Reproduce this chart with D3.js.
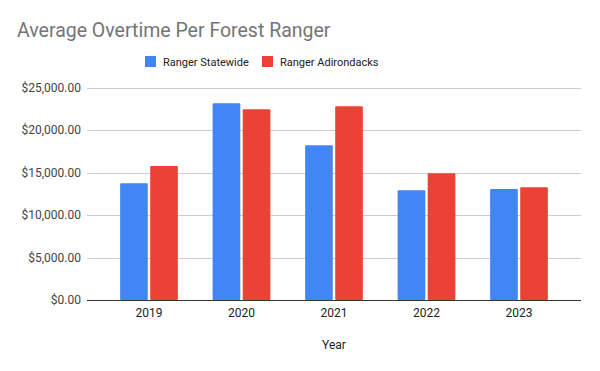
<!DOCTYPE html>
<html>
<head>
<meta charset="utf-8">
<script src="https://cdn.jsdelivr.net/npm/d3@7"></script>
<style>
  body { margin: 0; background: #fff; }
  text { font-family: Roboto, Arial, sans-serif; }
</style>
</head>
<body>
<svg width="600" height="371"></svg>
<script>
const years = ["2019", "2020", "2021", "2022", "2023"];
const seriesNames = ["Ranger Statewide", "Ranger Adirondacks"];
const statewide = [13760, 23200, 18250, 12940, 13100];
const adirondacks = [15800, 22490, 22840, 14950, 13290];
const yTicks = [0, 5000, 10000, 15000, 20000, 25000];
const colors = ["#4285f4", "#ea4335"];

const svg = d3.select('svg');
const width = +svg.attr('width');
const height = +svg.attr('height');

const plot = { left: 87, right: 581, top: 88, bottom: 300 };

const data = years.map((y, i) => ({ year: y, values: [statewide[i], adirondacks[i]] }));

const x0 = d3.scaleBand()
	.domain(years)
	.range([102.75, 565.25])
	.paddingInner(0.376)
	.paddingOuter(0.188);

const x1 = d3.scaleBand()
	.domain(seriesNames)
	.range([0, x0.bandwidth()])
	.paddingInner(0.08);

const yS = d3.scaleLinear()
	.domain([0, 25000])
	.range([plot.bottom, plot.top]);

// title
svg.append('text')
	.attr('x', 17)
	.attr('y', 37)
	.attr('font-size', 19.5)
	.attr('fill', '#757575')
	.text('Average Overtime Per Forest Ranger');

// legend
const legendX = [145, 262];
seriesNames.forEach((name, i) => {
	svg.append('rect')
		.attr('x', legendX[i])
		.attr('y', 56)
		.attr('width', 11)
		.attr('height', 11)
		.attr('fill', colors[i]);
	svg.append('text')
		.attr('x', legendX[i] + 18)
		.attr('y', 66)
		.attr('font-size', 11)
		.attr('fill', '#222')
		.text(name);
});

// gridlines
svg.append('g')
	.selectAll('line')
	.data(yTicks.filter(d => d > 0))
	.enter()
	.append('line')
	.attr('x1', plot.left)
	.attr('x2', plot.right)
	.attr('y1', d => Math.round(yS(d)) + 0.5)
	.attr('y2', d => Math.round(yS(d)) + 0.5)
	.attr('stroke', '#cccccc');

// y labels
const fmt = d3.format('$,.2f');
svg.append('g')
	.selectAll('text')
	.data(yTicks)
	.enter()
	.append('text')
	.attr('x', 81)
	.attr('y', d => yS(d) + 4)
	.attr('text-anchor', 'end')
	.attr('font-size', 12)
	.attr('fill', '#444')
	.text(d => fmt(d));

// bars
const groups = svg.append('g')
	.selectAll('g')
	.data(data)
	.enter()
	.append('g')
	.attr('transform', d => `translate(${x0(d.year)},0)`);

groups.selectAll('rect')
	.data(d => d.values.map((v, i) => ({ key: seriesNames[i], value: v, i })))
	.enter()
	.append('rect')
	.attr('x', d => x1(d.key))
	.attr('y', d => yS(d.value))
	.attr('width', x1.bandwidth())
	.attr('height', d => plot.bottom - yS(d.value))
	.attr('rx', 1)
	.attr('fill', d => colors[d.i]);

// baseline
svg.append('line')
	.attr('x1', plot.left)
	.attr('x2', plot.right)
	.attr('y1', plot.bottom + 0.5)
	.attr('y2', plot.bottom + 0.5)
	.attr('stroke', '#333');

// x labels
svg.append('g')
	.selectAll('text')
	.data(years)
	.enter()
	.append('text')
	.attr('x', d => x0(d) + x0.bandwidth() / 2)
	.attr('y', 317)
	.attr('text-anchor', 'middle')
	.attr('font-size', 12)
	.attr('fill', '#222')
	.text(d => d);

svg.append('text')
	.attr('x', (plot.left + plot.right) / 2)
	.attr('y', 349)
	.attr('text-anchor', 'middle')
	.attr('font-size', 12)
	.attr('fill', '#222')
	.text('Year');
</script>
</body>
</html>
